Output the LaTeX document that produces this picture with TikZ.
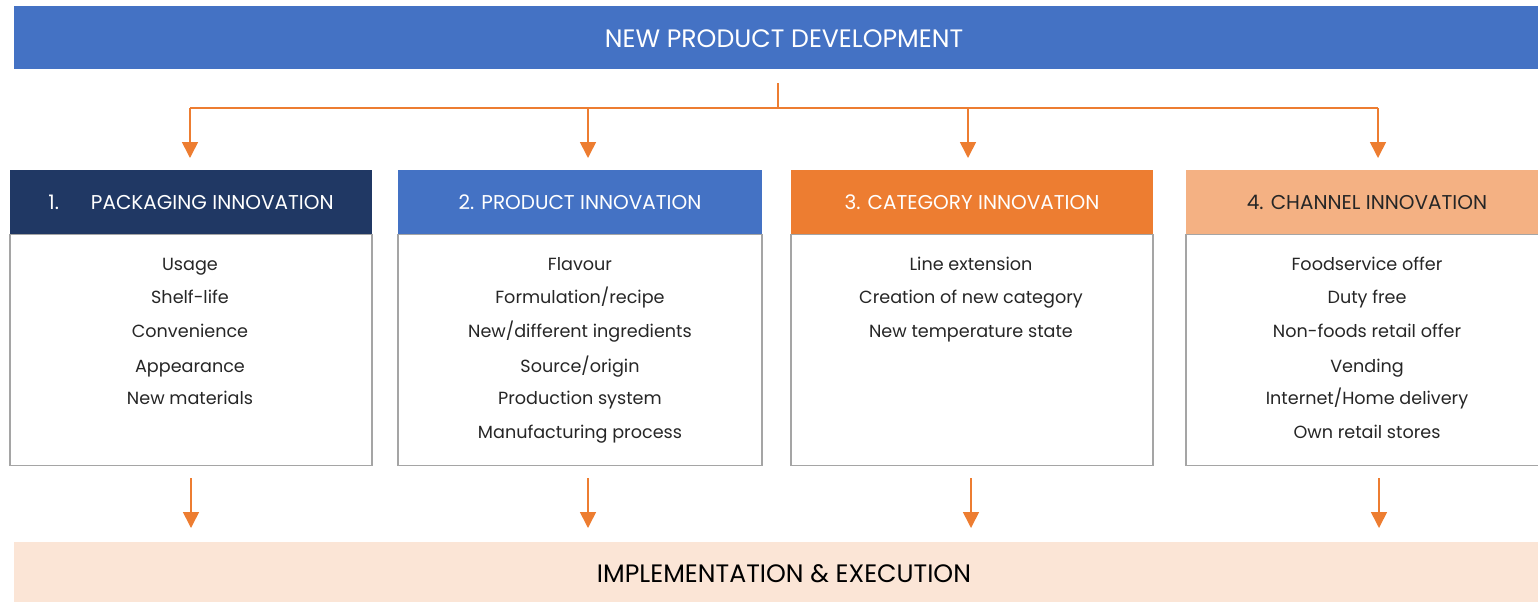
\documentclass[tikz,border=0pt]{standalone}
\usepackage{fontspec}
\setmainfont{Poppins}
\usetikzlibrary{arrows.meta}
\definecolor{cblue}{HTML}{4472C4}
\definecolor{cnavy}{HTML}{203864}
\definecolor{corange}{HTML}{ED7D31}
\definecolor{cpeach}{HTML}{F4B183}
\definecolor{clight}{HTML}{FBE5D6}
\definecolor{cborder}{HTML}{A5A5A5}
\definecolor{ctext}{HTML}{262626}
\tikzset{
  bar/.style={rectangle, inner sep=0pt, draw=none, text depth=0pt},
  head/.style={rectangle, inner sep=0pt, minimum height=32pt, text depth=0pt, font=\fontsize{10}{12}\selectfont},
  body/.style={rectangle, inner sep=0pt, draw=cborder, line width=0.6pt, fill=white, minimum height=115.5pt},
  item/.style={inner sep=0pt, anchor=base, text=ctext, font=\fontsize{8.8}{10}\selectfont},
  conn/.style={draw=corange, line width=0.8pt},
  arr/.style={conn, -{Triangle[width=8pt,length=8pt]}},
}
\begin{document}
\begin{tikzpicture}[x=0.5pt,y=-0.5pt]
\useasboundingbox (0,0) rectangle (1538,601);
% top bar
\node[bar, fill=cblue, minimum width=770pt, minimum height=31.5pt, text=white, font=\fontsize{12.6}{14}\selectfont] (npd) at (784,37.5) {\raisebox{-1pt}{NEW PRODUCT DEVELOPMENT}};
% bottom bar
\node[bar, fill=clight, minimum width=770pt, minimum height=32pt, text=black, font=\fontsize{12.6}{14}\selectfont] (impl) at (784,574) {IMPLEMENTATION \& EXECUTION};
% bodies
\node[body, minimum width=181pt] (b1) at (191,349.75) {};
\node[body, minimum width=182pt] (b2) at (580,349.75) {};
\node[body, minimum width=181pt] (b3) at (972,349.75) {};
\node[body, minimum width=181pt] (b4) at (1367,349.75) {};
% headers
\node[head, fill=cnavy, text=white, minimum width=181pt] (h1) at (191,202) {1.\hspace{16pt}PACKAGING INNOVATION};
\node[head, fill=cblue, text=white, minimum width=182pt] (h2) at (580,202) {2. PRODUCT INNOVATION};
\node[head, fill=corange, text=white, minimum width=181pt] (h3) at (972,202) {3. CATEGORY INNOVATION};
\node[head, fill=cpeach, text=ctext, minimum width=181pt] (h4) at (1367,202) {4. CHANNEL INNOVATION};
% items
\foreach \t [count=\i] in {Usage,Shelf-life,Convenience,Appearance,New materials}
  {\pgfmathsetmacro\yy{{264,297,331,366,398,432}[\i-1]+6.5}
   \node[item] (p\i) at (190,\yy) {\t};}
\foreach \t [count=\i] in {Flavour,Formulation/recipe,New/different ingredients,Source/origin,Production system,Manufacturing process}
  {\pgfmathsetmacro\yy{{264,297,331,366,398,432}[\i-1]+6.5}
   \node[item] (q\i) at (580,\yy) {\t};}
\foreach \t [count=\i] in {Line extension,Creation of new category,New temperature state}
  {\pgfmathsetmacro\yy{{264,297,331,366,398,432}[\i-1]+6.5}
   \node[item] (r\i) at (971,\yy) {\t};}
\foreach \t [count=\i] in {Foodservice offer,Duty free,Non-foods retail offer,Vending,Internet/Home delivery,Own retail stores}
  {\pgfmathsetmacro\yy{{264,297,331,366,398,432}[\i-1]+6.5}
   \node[item] (s\i) at (1367,\yy) {\t};}
% connectors
\coordinate (top) at (778,83);
\coordinate (hub) at (778,108);
\coordinate (t1) at (190,158);
\coordinate (t2) at (588,158);
\coordinate (t3) at (968,158);
\coordinate (t4) at (1378,158);
\draw[conn] (top) -- (hub);
\draw[conn] (t1 |- hub) -- (t4 |- hub);
\foreach \k in {1,2,3,4} \draw[arr] (t\k |- hub) -- (t\k);
\coordinate (u1) at (191,478); \coordinate (v1) at (191,528);
\coordinate (u2) at (588,478); \coordinate (v2) at (588,528);
\coordinate (u3) at (971,478); \coordinate (v3) at (971,528);
\coordinate (u4) at (1379,478); \coordinate (v4) at (1379,528);
\foreach \k in {1,2,3,4} \draw[arr] (u\k) -- (v\k);
\end{tikzpicture}
\end{document}
